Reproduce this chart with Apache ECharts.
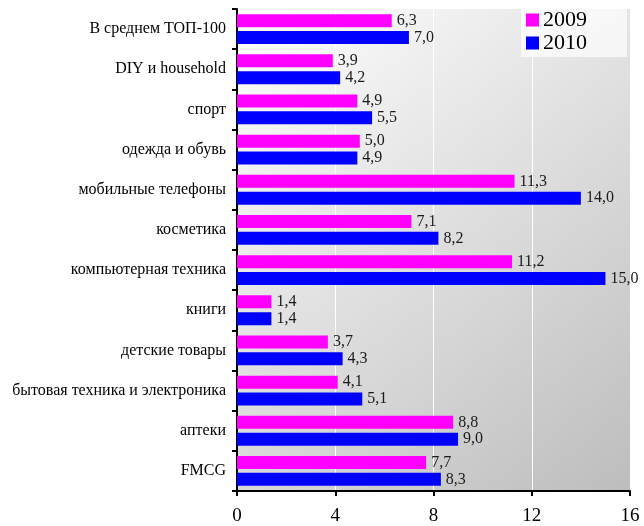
<!DOCTYPE html>
<html style="height: 100%">
<head>
<meta charset="utf-8">
<script src="https://cdn.jsdelivr.net/npm/echarts@6/dist/echarts.min.js"></script>
</head>
<body style="height: 100%; margin: 0; background: #fff">
<div id="container" style="width: 644px; height: 526px"></div>
<script>
var categories = ['В среднем ТОП-100', 'DIY и household', 'спорт', 'одежда и обувь',
  'мобильные телефоны', 'косметика', 'компьютерная техника', 'книги',
  'детские товары', 'бытовая техника и электроника', 'аптеки', 'FMCG'];
var seriesNames = ['2009', '2010'];
var values2009 = [6.3, 3.9, 4.9, 5.0, 11.3, 7.1, 11.2, 1.4, 3.7, 4.1, 8.8, 7.7];
var values2010 = [7.0, 4.2, 5.5, 4.9, 14.0, 8.2, 15.0, 1.4, 4.3, 5.1, 9.0, 8.3];
var xTicks = [0, 4, 8, 12, 16];

var font = 'Liberation Serif';
var chart = echarts.init(document.getElementById('container'));

function fmt(p) {
  return p.value.toFixed(1).replace('.', ',');
}

var option = {
  animation: false,
  textStyle: { fontFamily: font },
  legend: {
    data: seriesNames,
    orient: 'vertical',
    left: 521,
    top: 6,
    padding: [3, 40, 3, 5],
    itemWidth: 13,
    itemHeight: 13,
    itemGap: 1,
    icon: 'rect',
    textStyle: { fontFamily: font, fontSize: 22, color: '#000', padding: [0, 0, 0, -1] },
    backgroundColor: 'rgba(255,255,255,0.7)'
  },
  grid: {
    left: 237, right: 14, top: 9, bottom: 35,
    show: true,
    borderWidth: 0,
    backgroundColor: {
      type: 'linear', x: 0, y: 0, x2: 1, y2: 1,
      colorStops: [
        { offset: 0, color: '#ffffff' },
        { offset: 1, color: '#bdbdbd' }
      ]
    }
  },
  xAxis: {
    type: 'value',
    min: xTicks[0],
    max: xTicks[xTicks.length - 1],
    interval: 4,
    axisLine: { show: true, lineStyle: { color: '#000', width: 2 } },
    axisTick: { show: true, length: 5, lineStyle: { color: '#000', width: 2 } },
    axisLabel: { fontFamily: font, fontSize: 19, color: '#000', margin: 16 },
    splitLine: { show: true, lineStyle: { color: '#ffffff', width: 1 } }
  },
  yAxis: {
    type: 'category',
    data: categories,
    inverse: true,
    axisLine: { show: true, lineStyle: { color: '#000', width: 2 } },
    axisTick: { show: true, length: 5, lineStyle: { color: '#000', width: 2 } },
    axisLabel: { fontFamily: font, fontSize: 16, color: '#000', margin: 11 }
  },
  series: [
    {
      name: seriesNames[0],
      type: 'bar',
      data: values2009,
      itemStyle: { color: '#ff00ff' },
      barWidth: 13,
      barGap: '30%',
      label: { show: true, position: 'right', formatter: fmt, fontFamily: font, fontSize: 16, color: '#1a1a1a', distance: 5 }
    },
    {
      name: seriesNames[1],
      type: 'bar',
      data: values2010,
      itemStyle: { color: '#0000ff' },
      barWidth: 13,
      barGap: '30%',
      label: { show: true, position: 'right', formatter: fmt, fontFamily: font, fontSize: 16, color: '#1a1a1a', distance: 5 }
    }
  ]
};

chart.setOption(option);
</script>
</body>
</html>
